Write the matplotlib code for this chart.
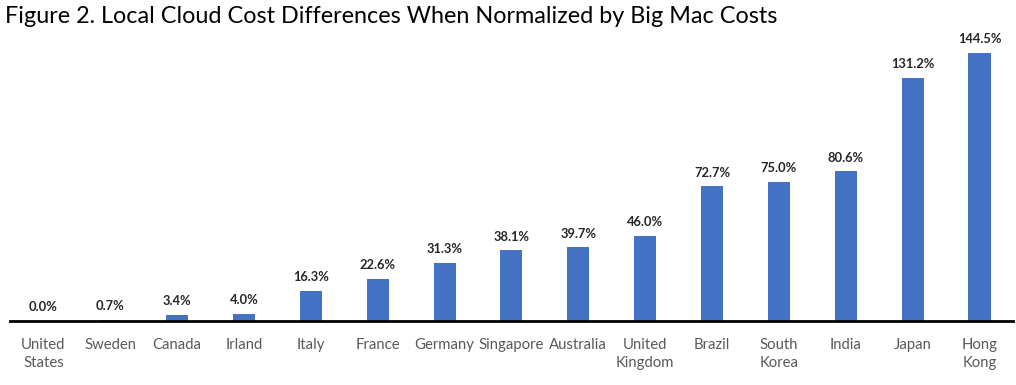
import matplotlib
matplotlib.use("Agg")
import matplotlib.pyplot as plt

categories = ["United\nStates", "Sweden", "Canada", "Irland", "Italy", "France", "Germany",
              "Singapore", "Australia", "United\nKingdom", "Brazil", "South\nKorea", "India",
              "Japan", "Hong\nKong"]
values = [0.0, 0.7, 3.4, 4.0, 16.3, 22.6, 31.3, 38.1, 39.7, 46.0, 72.7, 75.0, 80.6, 131.2, 144.5]
title = "Figure 2. Local Cloud Cost Differences When Normalized by Big Mac Costs"

plt.rcParams['font.family'] = ['Lato', 'DejaVu Sans']

fig = plt.figure(figsize=(10.16, 3.85), dpi=100)
ax = fig.add_axes([0.0098, 0.1662, 0.9872, 0.743])
x = range(len(categories))
ax.bar(x, values, width=0.33, color="#4472C4", zorder=2)
ax.set_xlim(-0.5, len(categories) - 0.5)
ax.set_ylim(0, 154.2)
for xi, v in zip(x, values):
    ax.annotate(f"{v:.1f}%", (xi, v), xytext=(0, 5.5), textcoords="offset points",
                ha="center", va="bottom", fontsize=9.3, fontweight="bold", color="#262626")
ax.set_xticks(list(x))
ax.set_xticklabels(categories, fontsize=10.7, color="#595959", linespacing=1.4)
ax.tick_params(axis="x", length=0, pad=12)
ax.set_yticks([])
for s in ["top", "right", "left"]:
    ax.spines[s].set_visible(False)
ax.spines["bottom"].set_linewidth(2)
ax.spines["bottom"].set_color("black")
fig.text(0.005, 0.958, title, fontsize=16.8, color="black", ha="left", va="center")
fig.savefig("out.png", dpi=100)
